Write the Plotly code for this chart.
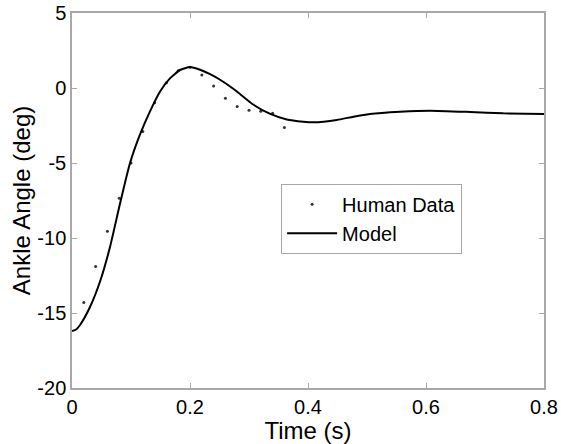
import plotly.graph_objects as go

# Human data (sampled every 0.02 s)
human_t = [0.02, 0.04, 0.06, 0.08, 0.10, 0.12, 0.14, 0.16, 0.18, 0.20, 0.22, 0.24, 0.26, 0.28, 0.30, 0.32, 0.34, 0.36]
human_a = [-14.3, -11.9, -9.55, -7.35, -5.0, -2.9, -0.98, 0.35, 1.15, 1.38, 0.87, 0.13, -0.69, -1.24, -1.49, -1.55, -1.69, -2.64]

# Model curve
model_t = [0.0, 0.007, 0.0136, 0.0305, 0.0475, 0.0644, 0.0814, 0.098, 0.115, 0.132, 0.149, 0.166,
           0.183, 0.2, 0.217, 0.234, 0.251, 0.268, 0.279, 0.307, 0.336, 0.364, 0.392, 0.409,
           0.449, 0.477, 0.505, 0.556, 0.607, 0.675, 0.731, 0.8]
model_a = [-16.2, -16.1, -15.8, -14.6, -12.9, -10.6, -7.7, -5.05, -3.13, -1.58, -0.25, 0.64,
           1.2, 1.4, 1.22, 0.92, 0.55, 0.1, -0.22, -1.1, -1.73, -2.1, -2.25, -2.29,
           -2.13, -1.91, -1.73, -1.58, -1.51, -1.6, -1.69, -1.73]

x_ticks = [0, 0.2, 0.4, 0.6, 0.8]
y_ticks = [-20, -15, -10, -5, 0, 5]

fig = go.Figure()
fig.add_trace(go.Scatter(x=human_t, y=human_a, mode="markers", name="Human Data",
                         marker=dict(size=3, color="#333333")))
fig.add_trace(go.Scatter(x=model_t, y=model_a, mode="lines", name="Model",
                         line=dict(color="black", width=2, shape="spline", smoothing=0.5)))

axis_common = dict(showline=True, linecolor="#a8a8a8", linewidth=1.5, mirror="ticks",
                   ticks="inside", ticklen=5, tickcolor="#a8a8a8", showgrid=False,
                   zeroline=False, automargin=False, tickfont=dict(size=20, color="black"))

fig.update_layout(
    width=561, height=444,
    margin=dict(l=72, r=17, t=13, b=56),
    paper_bgcolor="white", plot_bgcolor="white",
    font=dict(family="Liberation Sans, Arial, sans-serif", color="black"),
    xaxis=dict(range=[0, 0.8], tickvals=x_ticks, ticktext=[str(v) for v in x_ticks],
               title=dict(text="Time (s)", font=dict(size=24), standoff=0), **axis_common),
    yaxis=dict(range=[-20, 5], tickvals=y_ticks, ticktext=[str(v) for v in y_ticks],
               title=dict(text="Ankle Angle (deg)", font=dict(size=24), standoff=0), **axis_common),
    legend=dict(x=0.443, y=0.545, xanchor="left", yanchor="top",
                bordercolor="#a8a8a8", borderwidth=1, bgcolor="white",
                font=dict(size=20), itemwidth=50, tracegroupgap=0),
    showlegend=True,
)

fig.write_html("out.html")
